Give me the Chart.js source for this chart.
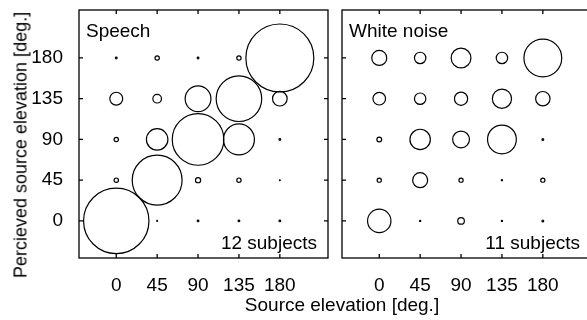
<!DOCTYPE html>
<html>
<head>
<meta charset="utf-8">
<script src="https://cdn.jsdelivr.net/npm/chart.js@4.4.1/dist/chart.umd.min.js"></script>
<style>
  html, body { margin: 0; padding: 0; background: #fff; overflow: hidden; }
  #wrap { position: relative; width: 587px; height: 320px; overflow: hidden; font-family: 'Liberation Sans', Arial, sans-serif; color: #000; }
  #speechBox { position: absolute; left: 0; top: 0; width: 336px; height: 320px; }
  #noiseBox { position: absolute; left: 338px; top: 0; width: 260px; height: 320px; }
  .ytitle { position: absolute; left: 21px; top: 145px; transform: translate(-50%, -50%) rotate(-90deg); white-space: nowrap; font-size: 18px; }
  .xtitle { position: absolute; left: 342px; top: 305px; transform: translate(-50%, -50%); white-space: nowrap; font-size: 19px; }
</style>
</head>
<body>
<div id="wrap">
  <div id="speechBox"><canvas id="speechChart"></canvas></div>
  <div id="noiseBox"><canvas id="noiseChart"></canvas></div>
  <div class="ytitle">Percieved source elevation [deg.]</div>
  <div class="xtitle">Source elevation [deg.]</div>
</div>
<script>
// tick values (deg.) for both axes
const elevations = [0, 45, 90, 135, 180];

// share of responses (%) per source elevation column,
// each row lists perceived elevation 0, 45, 90, 135, 180
const speechData = [
    [76, 5, 5, 15, 2],   // source 0
    [1, 58, 25, 10, 5],  // source 45
    [2, 6, 60, 30, 2],   // source 90
    [2, 5, 36, 53, 5],   // source 135
    [2, 1, 2, 17, 79]    // source 180
];

const noiseData = [
    [39, 7, 8, 21, 25],  // source 0
    [2, 25, 34, 19, 19], // source 45
    [11, 7, 28, 22, 33], // source 90
    [2, 2, 48, 32, 19],  // source 135
    [3, 7, 3, 24, 63]    // source 180
];

const panelTitles = ['Speech', 'White noise'];
const subjectLabels = ['12 subjects', '11 subjects'];

Chart.defaults.font.family = "'Liberation Sans', Arial, sans-serif";
Chart.defaults.font.size = 19;
Chart.defaults.color = '#000';

function buildPoints(matrix, pxPerPercent) {
    const points = [];
    matrix.forEach(function(column, i) {
        column.forEach(function(value, j) {
            points.push({ x: elevations[i], y: elevations[j], r: Math.max(value * pxPerPercent, 0.4) });
        });
    });
    return points;
}

// frame with inward ticks on all four sides, plus panel labels
const framePlugin = {
    id: 'frame',
    afterDraw(chart, args, opts) {
        const ctx = chart.ctx;
        const a = chart.chartArea;
        const xs = chart.scales.x, ys = chart.scales.y;
        const tl = 4;
        ctx.save();
        ctx.strokeStyle = '#000';
        ctx.lineWidth = 1.3;
        ctx.strokeRect(a.left, a.top, a.right - a.left, a.bottom - a.top);
        ctx.beginPath();
        elevations.forEach(function(v) {
            const px = xs.getPixelForValue(v);
            ctx.moveTo(px, a.bottom); ctx.lineTo(px, a.bottom - tl);
            ctx.moveTo(px, a.top); ctx.lineTo(px, a.top + tl);
            const py = ys.getPixelForValue(v);
            ctx.moveTo(a.left, py); ctx.lineTo(a.left + tl, py);
            ctx.moveTo(a.right, py); ctx.lineTo(a.right - tl, py);
        });
        ctx.stroke();

        ctx.fillStyle = '#000';
        ctx.font = "19px 'Liberation Sans', Arial, sans-serif";
        ctx.textBaseline = 'alphabetic';
        ctx.textAlign = 'left';
        ctx.fillText(opts.title, a.left + 7, a.top + 27);
        ctx.textAlign = 'right';
        ctx.fillText(opts.subjects, a.right - 11, a.bottom - 9);
        ctx.restore();
    }
};

function makePanel(canvasId, matrix, pxPerPercent, idx, showY, padding) {
    const ctx = document.getElementById(canvasId);
    new Chart(ctx.getContext('2d'), {
        type: 'bubble',
        data: {
            datasets: [{
                data: buildPoints(matrix, pxPerPercent),
                backgroundColor: 'rgba(0,0,0,0)',
                borderColor: '#000',
                borderWidth: 1.2,
                clip: false
            }]
        },
        options: {
            responsive: true,
            maintainAspectRatio: false,
            animation: false,
            events: [],
            layout: { padding: padding, autoPadding: false },
            scales: {
                x: {
                    type: 'linear',
                    min: -41,
                    max: 233,
                    grid: { display: false, drawTicks: false },
                    border: { display: false },
                    afterBuildTicks: function(s) { s.ticks = elevations.map(function(v) { return { value: v }; }); },
                    afterFit: function(s) { s.height = 62; s.paddingLeft = 0; s.paddingRight = 0; },
                    ticks: { padding: 16, maxRotation: 0, autoSkip: false }
                },
                y: {
                    type: 'linear',
                    display: showY,
                    min: -41,
                    max: 233,
                    grid: { display: false, drawTicks: false },
                    border: { display: false },
                    afterBuildTicks: function(s) { s.ticks = elevations.map(function(v) { return { value: v }; }); },
                    afterFit: function(s) { s.width = showY ? 79 : 0; s.paddingTop = 0; s.paddingBottom = 0; },
                    ticks: { padding: 16, autoSkip: false }
                }
            },
            plugins: {
                legend: { display: false },
                tooltip: { enabled: false },
                frame: { title: panelTitles[idx], subjects: subjectLabels[idx] }
            }
        },
        plugins: [framePlugin]
    });
}

makePanel('speechChart', speechData, 0.43, 0, true, { left: 0, top: 10, right: 8, bottom: 0 });
makePanel('noiseChart', noiseData, 0.30, 1, false, { left: 4, top: 10, right: 7, bottom: 0 });
</script>
</body>
</html>
